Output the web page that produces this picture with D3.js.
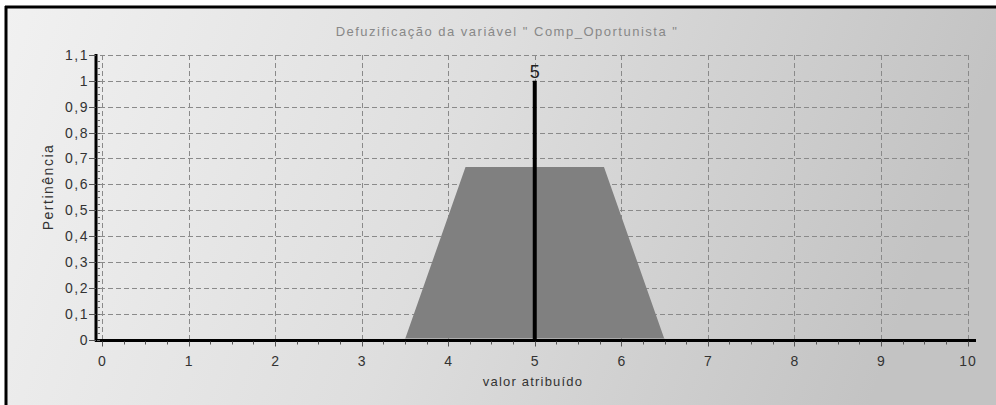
<!DOCTYPE html>
<html><head><meta charset="utf-8">
<script src="https://cdn.jsdelivr.net/npm/d3@7"></script>
<style>html,body{margin:0;padding:0;background:#fff;}svg{display:block;font-family:Arial,"Liberation Sans",sans-serif;}</style>
</head><body>
<script>
const title = 'Defuzificação da variável " Comp_Oportunista "';
const xLabel = "valor atribuído";
const yLabel = "Pertinência";
const xTicks = [0,1,2,3,4,5,6,7,8,9,10];
const yTicks = [0,0.1,0.2,0.3,0.4,0.5,0.6,0.7,0.8,0.9,1,1.1];
const areaX = [3.5, 4.2, 5.8, 6.5];
const areaY = [0, 0.667, 0.667, 0];
const crispX = [5, 5];
const crispY = [0, 1];
const crispLabel = "5";

const W = 996, H = 405;
const svg = d3.select("body").append("svg").attr("width", W).attr("height", H);
const defs = svg.append("defs");
const g1 = defs.append("linearGradient").attr("id","bg").attr("x1","0").attr("y1","0").attr("x2","1").attr("y2","0.15");
g1.append("stop").attr("offset","0").attr("stop-color","#f1f1f1");
g1.append("stop").attr("offset","0.5").attr("stop-color","#dedede");
g1.append("stop").attr("offset","1").attr("stop-color","#c3c3c3");
svg.append("rect").attr("width",W).attr("height",H).attr("fill","#fff");
svg.append("rect").attr("x",6).attr("y",7).attr("width",W-6).attr("height",H-7).attr("fill","url(#bg)");
// frame
svg.append("line").attr("x1",5).attr("x2",W).attr("y1",7).attr("y2",7).attr("stroke","#000").attr("stroke-width",3);
svg.append("line").attr("x1",6).attr("x2",6).attr("y1",6).attr("y2",H).attr("stroke","#000").attr("stroke-width",3);

const x = d3.scaleLinear().domain([0,10]).range([102,967.5]);
const y = d3.scaleLinear().domain([0,1.1]).range([339.5,55]);

// grid
const grid = svg.append("g").attr("stroke","#8a8a8a").attr("stroke-width",1).attr("stroke-dasharray","5,3").attr("fill","none");
yTicks.filter(v=>v>0).forEach(v=>{
  grid.append("line").attr("x1",x(0)-2).attr("x2",x(10)).attr("y1",Math.round(y(v))+0.5).attr("y2",Math.round(y(v))+0.5);
});
xTicks.forEach(v=>{
  grid.append("line").attr("x1",Math.round(x(v))+0.5).attr("x2",Math.round(x(v))+0.5).attr("y1",y(1.1)).attr("y2",y(0));
});

// area
const pts = areaX.map((v,i)=>[v,areaY[i]]);
svg.append("path").datum(pts)
  .attr("d", d3.area().x(d=>x(d[0])).y0(y(0)-1).y1(d=>y(d[1])))
  .attr("fill","#808080");

// crisp line
svg.append("line").attr("x1",x(crispX[0])).attr("x2",x(crispX[1])).attr("y1",y(crispY[0])).attr("y2",y(crispY[1]))
  .attr("stroke","#000").attr("stroke-width",4);
svg.append("text").attr("x",x(crispX[0])).attr("y",y(crispY[1])-3).attr("text-anchor","middle")
  .attr("font-size",18).attr("fill","#222").text(crispLabel);

// x axis
const xAxisG = svg.append("g");
xAxisG.append("line").attr("x1",95).attr("x2",976).attr("y1",y(0)+1).attr("y2",y(0)+1).attr("stroke","#000").attr("stroke-width",3);
const minor = d3.range(0,10.001,0.25);
minor.forEach(v=>{
  const major = Math.abs(v-Math.round(v))<1e-6;
  xAxisG.append("line").attr("x1",Math.round(x(v))+0.5).attr("x2",Math.round(x(v))+0.5)
    .attr("y1",y(0)+2).attr("y2",y(0)+(major?7:5)).attr("stroke","#555").attr("stroke-width",1);
});
xTicks.forEach(v=>{
  xAxisG.append("text").attr("x",x(v)+0.5).attr("y",366).attr("text-anchor","middle").attr("font-size",14).attr("letter-spacing",1).attr("fill","#333")
    .text(d3.format("~g")(v).replace(".",","));
});

// y axis
const yAxisG = svg.append("g");
yAxisG.append("line").attr("x1",96).attr("x2",96).attr("y1",y(1.1)-1).attr("y2",y(0)+2).attr("stroke","#000").attr("stroke-width",3);
yTicks.forEach(v=>{
  yAxisG.append("line").attr("x1",89).attr("x2",96).attr("y1",Math.round(y(v))+0.5).attr("y2",Math.round(y(v))+0.5).attr("stroke","#555");
  yAxisG.append("text").attr("x",89).attr("y",y(v)+5).attr("text-anchor","end").attr("font-size",14).attr("letter-spacing",1.5).attr("fill","#333")
    .text(d3.format("~g")(v).replace(".",","));
});
d3.range(0,1.1,0.025).forEach(v=>{
  yAxisG.append("line").attr("x1",97).attr("x2",100).attr("y1",Math.round(y(v))+0.5).attr("y2",Math.round(y(v))+0.5).attr("stroke","#666");
});

// labels
svg.append("text").attr("x",507).attr("y",36).attr("text-anchor","middle").attr("font-size",13).attr("letter-spacing",1.5).attr("fill","#888").text(title);
svg.append("text").attr("x",533).attr("y",386).attr("text-anchor","middle").attr("font-size",13).attr("letter-spacing",1.2).attr("fill","#333").text(xLabel);
svg.append("text").attr("transform","translate(53,187) rotate(-90)").attr("text-anchor","middle").attr("font-size",14).attr("letter-spacing",1.5).attr("fill","#333").text(yLabel);
</script>
</body></html>
